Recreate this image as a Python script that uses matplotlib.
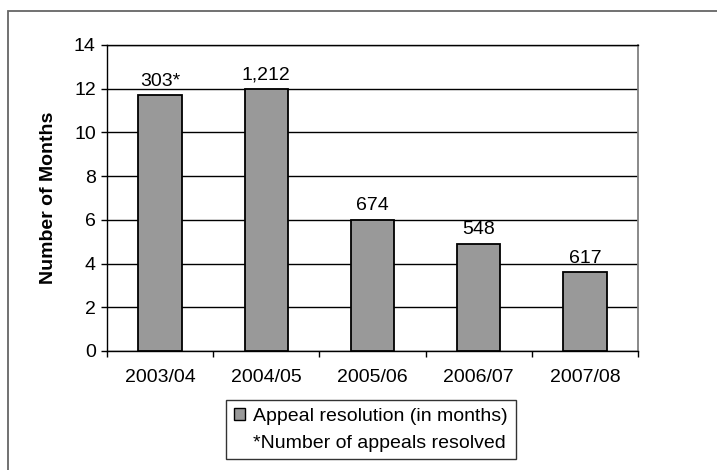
import matplotlib.pyplot as plt
from matplotlib.patches import Patch, Rectangle

plt.rcParams['font.family'] = ['Liberation Sans', 'DejaVu Sans']

ANOS = ['2003/04', '2004/05', '2005/06', '2006/07', '2007/08']
MESES = [11.7, 12.0, 6.0, 4.9, 3.6]  # tempo de resolucao (meses)
ROTULOS = ['303*', '1,212', '674', '548', '617']  # numero de recursos resolvidos
Y_TICKS = [0, 2, 4, 6, 8, 10, 12, 14]

COR_BARRA = '#999999'
FONTE = 14

fig = plt.figure(figsize=(7.17, 4.70), dpi=100)
ax = fig.add_axes([0.1492, 0.2532, 0.7406, 0.6511])

pos = list(range(len(ANOS)))
barras = ax.bar(pos, MESES, width=0.41, color=COR_BARRA, edgecolor='black',
                linewidth=1.3, zorder=3)

for b, rot in zip(barras, ROTULOS):
    ax.annotate(rot, (b.get_x() + b.get_width() / 2, b.get_height()),
                xytext=(0, 4), textcoords='offset points',
                ha='center', va='bottom', fontsize=FONTE)

ax.set_xlim(-0.5, len(ANOS) - 0.5)
ax.set_ylim(0, 14)
ax.set_yticks(Y_TICKS)
ax.yaxis.grid(True, color='black', linewidth=1.0, zorder=0)
ax.set_axisbelow(True)

ax.set_xticks(pos)
ax.set_xticklabels(ANOS, fontsize=FONTE)
ax.set_xticks([p - 0.5 for p in range(len(ANOS) + 1)], minor=True)
ax.tick_params(axis='x', which='major', length=0, pad=13)
ax.tick_params(axis='x', which='minor', length=4, width=1, direction='out')
ax.tick_params(axis='y', length=4, width=1, labelsize=FONTE, pad=4)

ax.set_ylabel('Number of Months', fontsize=FONTE, fontweight='bold')
ax.yaxis.set_label_coords(-0.094, 0.5)

for lado in ['left', 'bottom', 'top']:
    ax.spines[lado].set_color('black')
    ax.spines[lado].set_linewidth(1.0)
ax.spines['right'].set_color('#808080')
ax.spines['right'].set_linewidth(1.3)

# moldura externa (cortada a direita e embaixo)
moldura = Rectangle((8 / 717, -0.1), 1.2, 1 - 11 / 470 + 0.1, transform=fig.transFigure,
                    fill=False, edgecolor='#666666', linewidth=1.3)
fig.patches.append(moldura)

handles = [Patch(facecolor=COR_BARRA, edgecolor='black', linewidth=1.0),
           Patch(facecolor='none', edgecolor='none')]
leg = fig.legend(handles, ['Appeal resolution (in months)', '*Number of appeals resolved'],
                 loc='upper left', bbox_to_anchor=(226 / 717, 1 - 400 / 470),
                 fontsize=FONTE, frameon=True, fancybox=False, shadow=False,
                 handlelength=0.6, handleheight=0.6, handletextpad=0.4,
                 borderpad=0.4, labelspacing=0.5, borderaxespad=0)
leg.get_frame().set_edgecolor('black')
leg.get_frame().set_linewidth(1.0)

fig.savefig('out.png', dpi=100)
